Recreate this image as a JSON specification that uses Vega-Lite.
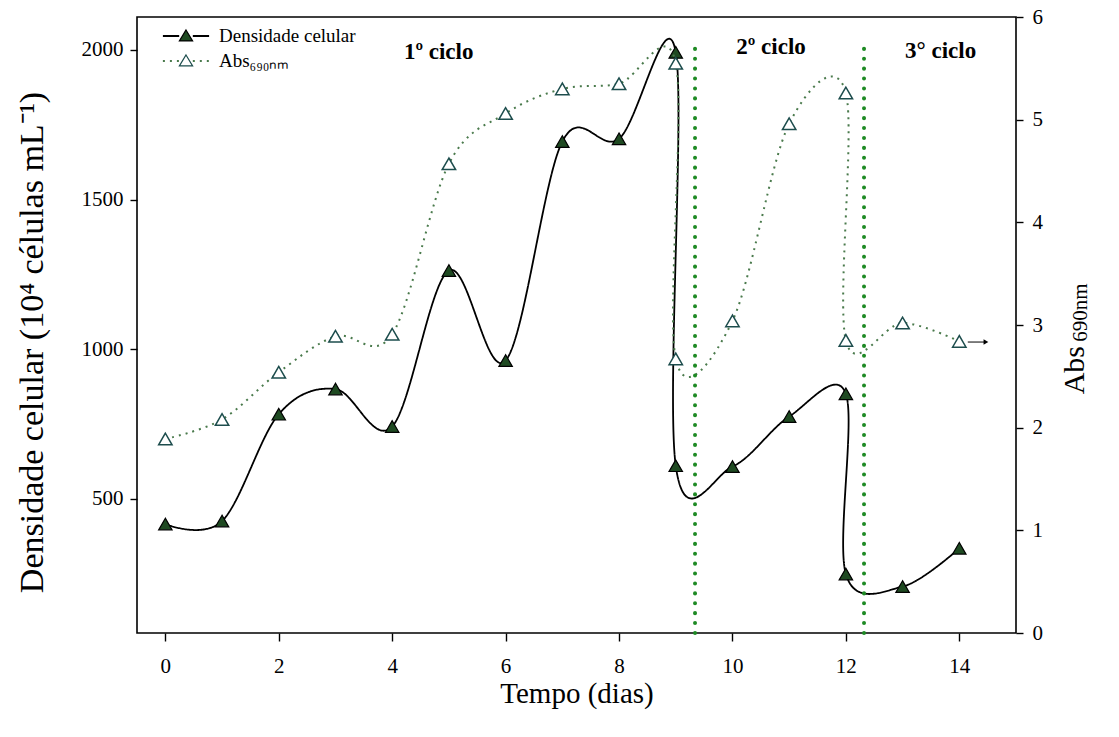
{
  "$schema": "https://vega.github.io/schema/vega-lite/v6.json",
  "width": 879,
  "height": 616,
  "autosize": {"type": "none"},
  "padding": {"left": 137, "top": 17, "right": 103, "bottom": 104},
  "background": "#ffffff",
  "config": {
    "view": {"stroke": "#000000", "strokeWidth": 1.6},
    "font": "Liberation Serif",
    "axis": {"grid": false, "domain": false, "labelFont": "Liberation Serif", "titleFont": "Liberation Serif", "labelColor": "#000000", "titleColor": "#000000", "tickColor": "#000000", "tickWidth": 1.4, "labelFontSize": 21, "titleFontWeight": "normal"},
    "text": {"font": "Liberation Serif"}
  },
  "datasets": {
    "densidade": [
      {"tempo": 0, "densidade": 416, "ordem": 0},
      {"tempo": 1, "densidade": 426, "ordem": 1},
      {"tempo": 2, "densidade": 783, "ordem": 2},
      {"tempo": 3, "densidade": 867, "ordem": 3},
      {"tempo": 4, "densidade": 742, "ordem": 4},
      {"tempo": 5, "densidade": 1263, "ordem": 5},
      {"tempo": 6, "densidade": 962, "ordem": 6},
      {"tempo": 7, "densidade": 1694, "ordem": 7},
      {"tempo": 8, "densidade": 1703, "ordem": 8},
      {"tempo": 9, "densidade": 1992, "ordem": 9},
      {"tempo": 9, "densidade": 611, "ordem": 10},
      {"tempo": 10, "densidade": 608, "ordem": 11},
      {"tempo": 11, "densidade": 775, "ordem": 12},
      {"tempo": 12, "densidade": 851, "ordem": 13},
      {"tempo": 12, "densidade": 249, "ordem": 14},
      {"tempo": 13, "densidade": 207, "ordem": 15},
      {"tempo": 14, "densidade": 335, "ordem": 16}
    ],
    "abs": [
      {"tempo": 0, "abs": 1.89, "ordem": 0},
      {"tempo": 1, "abs": 2.08, "ordem": 1},
      {"tempo": 2, "abs": 2.54, "ordem": 2},
      {"tempo": 3, "abs": 2.89, "ordem": 3},
      {"tempo": 4, "abs": 2.91, "ordem": 4},
      {"tempo": 5, "abs": 4.57, "ordem": 5},
      {"tempo": 6, "abs": 5.06, "ordem": 6},
      {"tempo": 7, "abs": 5.30, "ordem": 7},
      {"tempo": 8, "abs": 5.35, "ordem": 8},
      {"tempo": 9, "abs": 5.55, "ordem": 9},
      {"tempo": 9, "abs": 2.67, "ordem": 10},
      {"tempo": 10, "abs": 3.04, "ordem": 11},
      {"tempo": 11, "abs": 4.96, "ordem": 12},
      {"tempo": 12, "abs": 5.26, "ordem": 13},
      {"tempo": 12, "abs": 2.85, "ordem": 14},
      {"tempo": 13, "abs": 3.02, "ordem": 15},
      {"tempo": 14, "abs": 2.84, "ordem": 16}
    ],
    "ciclos": [
      {"fim": 9.34},
      {"fim": 12.32}
    ]
  },
  "layer": [
    {
      "data": {"name": "densidade"},
      "layer": [
        {
          "mark": {"type": "line", "interpolate": "cardinal", "strokeWidth": 1.8},
          "encoding": {
            "x": {"field": "tempo", "type": "quantitative", "scale": {"domain": [-0.5, 15], "nice": false, "zero": false}, "axis": {"orient": "bottom", "values": [0, 2, 4, 6, 8, 10, 12, 14], "format": "d", "title": "Tempo (dias)", "labelFont": "Liberation Serif", "titleFont": "Liberation Serif", "tickSize": 8, "labelPadding": 14, "titlePadding": 3, "titleFontSize": 29}},
            "y": {"field": "densidade", "type": "quantitative", "scale": {"domain": [52, 2110], "nice": false, "zero": false}, "axis": {"orient": "left", "values": [500, 1000, 1500, 2000], "format": "d", "title": "Densidade celular (10⁴ células mL⁻¹)", "labelFont": "Liberation Serif", "titleFont": "Liberation Serif", "tickSize": 7, "labelPadding": 7, "titlePadding": 32, "titleFontSize": 34, "titleY": 325}},
            "order": {"field": "ordem", "type": "quantitative"},
            "color": {"datum": "Densidade celular", "type": "nominal", "scale": {"domain": ["Abs₆₉₀ₙₘ", "Densidade celular"], "range": ["#4a7a4c", "#000000"]}, "legend": {"orient": "none", "legendX": 37, "legendY": 7, "title": null, "padding": 0, "direction": "vertical", "values": ["Densidade celular", "Abs₆₉₀ₙₘ"], "symbolType": "M-2.1,0H-0.62M0.62,0H2.1", "symbolSize": 484, "symbolStrokeWidth": 1.8, "labelFont": "Liberation Serif", "labelFontSize": 19, "labelColor": "#000000", "labelOpacity": 0, "labelOffset": 21, "rowPadding": 3, "labelLimit": 400}},
            "strokeDash": {"datum": "Densidade celular", "type": "nominal", "scale": {"domain": ["Abs₆₉₀ₙₘ", "Densidade celular"], "range": [[2, 5], [1, 0]]}, "legend": {"orient": "none", "legendX": 37, "legendY": 7, "title": null, "padding": 0, "direction": "vertical", "values": ["Densidade celular", "Abs₆₉₀ₙₘ"], "symbolType": "M-2.1,0H-0.62M0.62,0H2.1", "symbolSize": 484, "symbolStrokeWidth": 1.8, "labelFont": "Liberation Serif", "labelFontSize": 19, "labelColor": "#000000", "labelOpacity": 0, "labelOffset": 21, "rowPadding": 3, "labelLimit": 400}}
          }
        },
        {
          "mark": {"type": "point", "shape": "triangle-up", "filled": true, "size": 180, "strokeWidth": 1.2, "opacity": 1},
          "encoding": {
            "x": {"field": "tempo", "type": "quantitative"},
            "y": {"field": "densidade", "type": "quantitative"},
            "fill": {"datum": "Densidade celular", "type": "nominal", "scale": {"domain": ["Densidade celular", "Abs₆₉₀ₙₘ"], "range": ["#1f4a22", "#ffffff"]}, "legend": {"orient": "none", "legendX": 37, "legendY": 7, "title": null, "padding": 0, "direction": "vertical", "symbolType": "M0,-0.55L0.6,0.45L-0.6,0.45Z", "symbolSize": 484, "symbolStrokeWidth": 1.2, "labelFont": "Liberation Serif", "labelFontSize": 19, "labelColor": "#000000", "labelOffset": 21, "rowPadding": 3, "labelLimit": 400}},
            "stroke": {"datum": "Densidade celular", "type": "nominal", "scale": {"domain": ["Densidade celular", "Abs₆₉₀ₙₘ"], "range": ["#000000", "#1d4d4d"]}, "legend": {"orient": "none", "legendX": 37, "legendY": 7, "title": null, "padding": 0, "direction": "vertical", "symbolType": "M0,-0.55L0.6,0.45L-0.6,0.45Z", "symbolSize": 484, "symbolStrokeWidth": 1.2, "labelFont": "Liberation Serif", "labelFontSize": 19, "labelColor": "#000000", "labelOffset": 21, "rowPadding": 3, "labelLimit": 400}}
          }
        }
      ]
    },
    {
      "data": {"name": "abs"},
      "layer": [
        {
          "mark": {"type": "line", "interpolate": "cardinal", "strokeWidth": 2},
          "encoding": {
            "x": {"field": "tempo", "type": "quantitative"},
            "y": {"field": "abs", "type": "quantitative", "scale": {"domain": [0, 6], "nice": false, "zero": false}, "axis": {"orient": "right", "values": [0, 1, 2, 3, 4, 5, 6], "format": "d", "title": null, "labelFont": "Liberation Serif", "tickSize": 7, "labelPadding": 9}},
            "order": {"field": "ordem", "type": "quantitative"},
            "color": {"datum": "Abs₆₉₀ₙₘ", "type": "nominal"},
            "strokeDash": {"datum": "Abs₆₉₀ₙₘ", "type": "nominal"}
          }
        },
        {
          "data": {"name": "ciclos"},
          "mark": {"type": "rule", "color": "#1e8a24", "strokeWidth": 4, "strokeDash": [0.1, 9.8], "strokeCap": "round"},
          "encoding": {
            "x": {"field": "fim", "type": "quantitative"},
            "y": {"datum": 0, "type": "quantitative"},
            "y2": {"datum": 5.73}
          }
        },
        {
          "mark": {"type": "point", "shape": "triangle-up", "filled": true, "size": 180, "strokeWidth": 1.5, "opacity": 1},
          "encoding": {
            "x": {"field": "tempo", "type": "quantitative"},
            "y": {"field": "abs", "type": "quantitative"},
            "fill": {"datum": "Abs₆₉₀ₙₘ", "type": "nominal"},
            "stroke": {"datum": "Abs₆₉₀ₙₘ", "type": "nominal"}
          }
        },
        {
          "data": {"values": [{}]},
          "mark": {"type": "rule", "color": "#000000", "strokeWidth": 1},
          "encoding": {
            "x": {"datum": 14.15, "type": "quantitative"},
            "x2": {"datum": 14.45},
            "y": {"datum": 2.834, "type": "quantitative"}
          }
        },
        {
          "data": {"values": [{}]},
          "mark": {"type": "point", "shape": "triangle-right", "filled": true, "color": "#000000", "size": 30, "opacity": 1},
          "encoding": {
            "x": {"datum": 14.47, "type": "quantitative"},
            "y": {"datum": 2.834, "type": "quantitative"}
          }
        },
        {
          "data": {"values": [{}]},
          "mark": {"type": "text", "text": "1º ciclo", "font": "Liberation Serif", "fontSize": 23, "fontWeight": "bold", "color": "#000000", "align": "center", "baseline": "middle"},
          "encoding": {
            "x": {"datum": 4.82, "type": "quantitative"},
            "y": {"datum": 5.66, "type": "quantitative"}
          }
        },
        {
          "data": {"values": [{}]},
          "mark": {"type": "text", "text": "2º ciclo", "font": "Liberation Serif", "fontSize": 23, "fontWeight": "bold", "color": "#000000", "align": "center", "baseline": "middle"},
          "encoding": {
            "x": {"datum": 10.68, "type": "quantitative"},
            "y": {"datum": 5.71, "type": "quantitative"}
          }
        },
        {
          "data": {"values": [{}]},
          "mark": {"type": "text", "text": "3° ciclo", "font": "Liberation Serif", "fontSize": 23, "fontWeight": "bold", "color": "#000000", "align": "center", "baseline": "middle"},
          "encoding": {
            "x": {"datum": 13.67, "type": "quantitative"},
            "y": {"datum": 5.67, "type": "quantitative"}
          }
        },
        {
          "data": {"values": [{}]},
          "mark": {"type": "text", "text": "Abs", "font": "Liberation Serif", "fontSize": 30, "color": "#000000", "align": "center", "baseline": "middle", "angle": 270},
          "encoding": {
            "x": {"datum": 16.04, "type": "quantitative"},
            "y": {"datum": 2.56, "type": "quantitative"}
          }
        },
        {
          "data": {"values": [{}]},
          "mark": {"type": "text", "text": "690nm", "font": "Liberation Serif", "fontSize": 21, "color": "#000000", "align": "center", "baseline": "middle", "angle": 270},
          "encoding": {
            "x": {"datum": 16.15, "type": "quantitative"},
            "y": {"datum": 3.12, "type": "quantitative"}
          }
        }
      ]
    }
  ],
  "resolve": {"scale": {"y": "independent"}}
}
